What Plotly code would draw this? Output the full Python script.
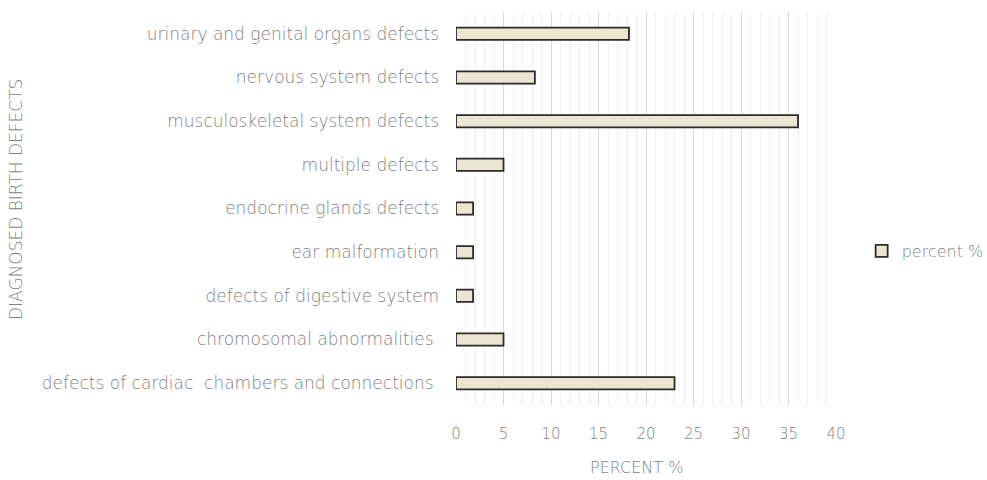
import plotly.graph_objects as go

categories = [
    "defects of cardiac  chambers and connections\u00a0",
    "chromosomal abnormalities\u00a0",
    "defects of digestive system",
    "ear malformation",
    "endocrine glands defects",
    "multiple defects",
    "musculoskeletal system defects",
    "nervous system defects",
    "urinary and genital organs defects",
]
percent = [23.0, 5.0, 1.8, 1.8, 1.8, 5.0, 36.0, 8.3, 18.2]
x_ticks = [0, 5, 10, 15, 20, 25, 30, 35, 40]

FONT = "DejaVu Sans"
GREY = "#7F7F7F"
W = 200

fig = go.Figure()
fig.add_trace(go.Bar(
    y=categories, x=percent, orientation="h", name="percent %",
    marker=dict(color="#EBE6D1", line=dict(color="#2B2B2B", width=1.8)),
))

fig.update_layout(
    width=987, height=480,
    margin=dict(l=456, r=150, t=12, b=75, autoexpand=False),
    paper_bgcolor="white", plot_bgcolor="white",
    font=dict(family=FONT, size=16, color=GREY, weight=W),
    bargap=0.72,
    showlegend=True,
    legend=dict(xref="container", x=0.873, y=0.392, xanchor="left", yanchor="middle",
                font=dict(family=FONT, size=16, color=GREY, weight=W),
                itemwidth=30),
    xaxis=dict(range=[0, 40.1], tickvals=x_ticks, showgrid=True,
               gridcolor="#D9D9D9", gridwidth=1,
               minor=dict(dtick=1, showgrid=True, gridcolor="#EFEFEF", gridwidth=1),
               zeroline=False, showline=False, ticks="",
               ticklabelstandoff=18,
               tickfont=dict(family=FONT, size=15, color=GREY, weight=W)),
    yaxis=dict(categoryorder="array", categoryarray=categories,
               showgrid=False, zeroline=False, showline=False, ticks="",
               ticklabelstandoff=16, range=[-0.5, 8.5],
               tickfont=dict(family=FONT, size=17, color=GREY, weight=W)),
    annotations=[
        dict(text="PERCENT %", xref="paper", yref="paper", x=0.475, y=-0.16,
             yanchor="middle", showarrow=False,
             font=dict(family=FONT, size=16, color=GREY, weight=W)),
        dict(text="DIAGNOSED BIRTH DEFECTS", xref="paper", yref="paper",
             x=-1.155, y=0.524, xanchor="center", yanchor="middle", textangle=-90,
             showarrow=False,
             font=dict(family=FONT, size=17, color=GREY, weight=W)),
    ],
)

fig.write_html("out.html", config={"displayModeBar": False},
               post_script="document.body.style.margin='0';")
